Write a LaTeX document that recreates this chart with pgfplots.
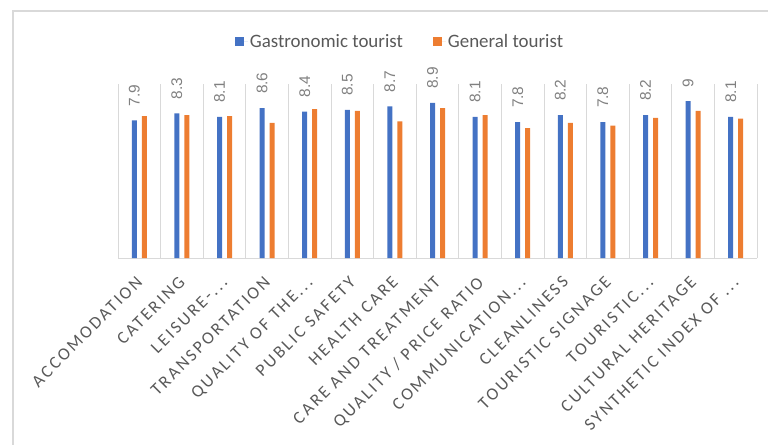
\documentclass[border=0pt]{standalone}
\usepackage{pgfplots}
\pgfplotsset{compat=1.18}
\usepackage{fontspec}
\setmainfont{Carlito}
\newfontfamily\labfont[LetterSpace=14]{Carlito}
\newfontfamily\numfont{Liberation Sans}
\definecolor{gblue}{HTML}{4472C4}
\definecolor{gorange}{HTML}{ED7D31}
\definecolor{txt}{HTML}{595959}
\definecolor{gridc}{HTML}{D9D9D9}
\definecolor{numc}{HTML}{808080}
\newcommand\etc{...}
\begin{document}
\begin{tikzpicture}
\useasboundingbox (0,0) rectangle (768bp,445bp);
\draw[gridc, line width=1.2bp] (13bp,0) -- (13bp,434bp) -- (768bp,434bp);
\begin{axis}[
  at={(118bp,187bp)}, anchor=south west,
  scale only axis, width=639bp, height=174.2bp,
  xmin=-0.5, xmax=14.5, ymin=0, ymax=10,
  clip=false,
  axis y line=none,
  axis x line=bottom,
  x axis line style={-, draw=gridc, line width=1bp},
  ytick=\empty,
  xtick={0,...,14},
  xticklabels={ACCOMODATION, CATERING, {LEISURE-\etc}, TRANSPORTATION, {QUALITY OF THE\etc}, PUBLIC SAFETY, HEALTH CARE, CARE AND TREATMENT, QUALITY / PRICE RATIO, {COMMUNICATION\etc}, CLEANLINESS, TOURISTIC SIGNAGE, {TOURISTIC\etc}, CULTURAL HERITAGE, {SYNTHETIC INDEX OF \etc}},
  major tick length=0pt, minor tick length=0pt,
  minor xtick={-0.5,0.5,...,14.5},
  xminorgrids, minor grid style={draw=gridc, line width=0.8bp},
  xticklabel style={xshift=-4bp, yshift=-17bp, rotate=45, anchor=north east, inner sep=0pt,
    font=\labfont\fontsize{17.5}{17.5}\selectfont, text=txt},
  ybar, bar width=5bp,
  /pgf/number format/assume math mode=true,
  legend columns=2,
  legend style={at={(0.4413,1.24)}, anchor=center, draw=none, fill=none,
    font=\fontsize{19}{20}\selectfont, text=txt,
    /tikz/every even column/.append style={column sep=28bp}},
  legend image code/.code={\fill[#1] (0bp,-4.5bp) rectangle (9bp,4.5bp); \path (0bp,0bp) -- (13bp,0bp);},
]
\addplot[fill=gblue, draw=none, bar shift=-5bp,
  nodes near coords,
  nodes near coords style={yshift=14bp, rotate=90, anchor=west, inner sep=0pt,
    font=\numfont\fontsize{15.5}{15.5}\selectfont, text=numc}]
  coordinates {(0,7.9) (1,8.3) (2,8.1) (3,8.6) (4,8.4) (5,8.5) (6,8.7) (7,8.9) (8,8.1) (9,7.8) (10,8.2) (11,7.8) (12,8.2) (13,9) (14,8.1)};
\addlegendentry{Gastronomic tourist}
\addplot[fill=gorange, draw=none, bar shift=5bp]
  coordinates {(0,8.15) (1,8.2) (2,8.15) (3,7.75) (4,8.55) (5,8.45) (6,7.85) (7,8.6) (8,8.2) (9,7.45) (10,7.75) (11,7.6) (12,8.05) (13,8.45) (14,8.0)};
\addlegendentry{General tourist}
\end{axis}
\end{tikzpicture}
\end{document}
